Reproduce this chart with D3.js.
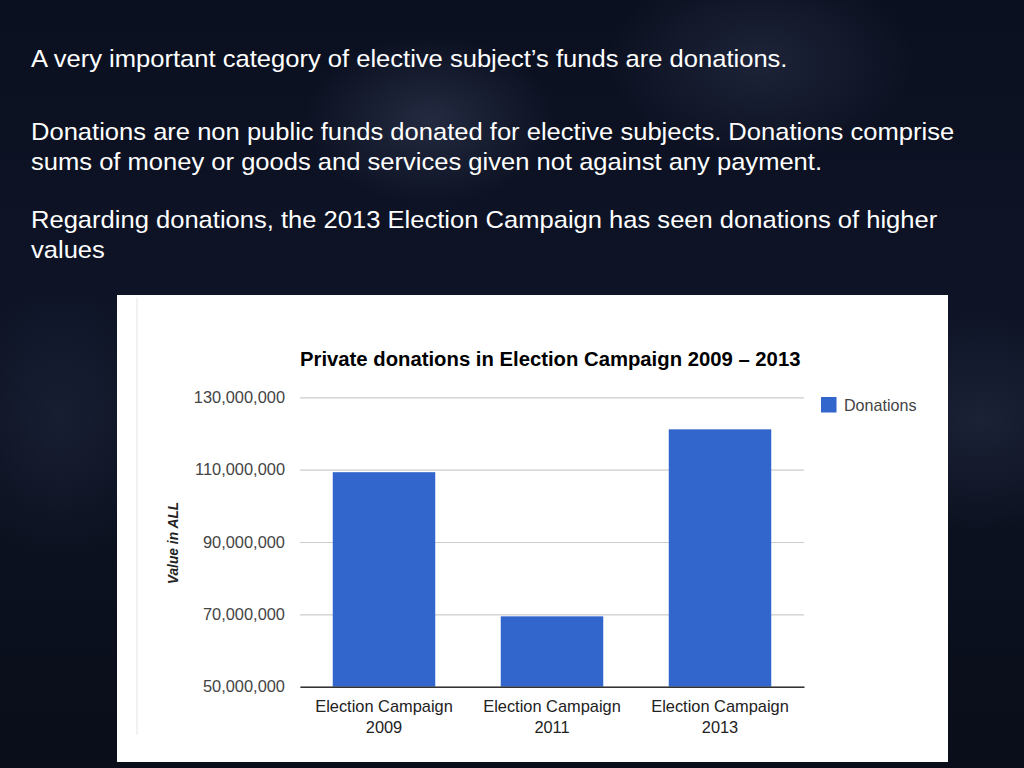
<!DOCTYPE html>
<html>
<head>
<meta charset="utf-8">
<script src="https://cdn.jsdelivr.net/npm/d3@7/dist/d3.min.js"></script>
<style>
  html, body { margin: 0; padding: 0; width: 1024px; height: 768px; overflow: hidden; }
  body {
    background:
      radial-gradient(ellipse 180px 120px at 430px 120px, rgba(120,130,170,0.22), rgba(0,0,0,0) 70%),
      radial-gradient(ellipse 220px 140px at 760px 60px, rgba(110,120,160,0.18), rgba(0,0,0,0) 70%),
      radial-gradient(ellipse 200px 160px at 980px 420px, rgba(100,110,150,0.16), rgba(0,0,0,0) 70%),
      radial-gradient(ellipse 160px 200px at 60px 420px, rgba(90,100,140,0.14), rgba(0,0,0,0) 70%),
      linear-gradient(180deg, #0b1020 0%, #0e1426 40%, #0a0e1a 100%);
  }
</style>
</head>
<body>
<svg id="chart" width="1024" height="768"></svg>
<script>
// ---- data ----
const introLines = [
  "A very important category of elective subject’s funds are donations."
];
const para2Lines = [
  "Donations are non public funds donated for elective subjects. Donations comprise",
  "sums of money or goods and services given not against any payment."
];
const para3Lines = [
  "Regarding donations, the 2013 Election Campaign has seen donations of higher",
  "values"
];
const categories = ["Election Campaign 2009", "Election Campaign 2011", "Election Campaign 2013"];
const categoryLine1 = ["Election Campaign", "Election Campaign", "Election Campaign"];
const categoryLine2 = ["2009", "2011", "2013"];
const donations = [109300000, 69450000, 121150000];
const yTicks = [50000000, 70000000, 90000000, 110000000, 130000000];
const chartTitle = "Private donations in Election Campaign 2009 – 2013";
const yAxisTitle = "Value in ALL";
const seriesName = "Donations";

// ---- drawing ----
const svg = d3.select("#chart");
const font = "Liberation Sans, Arial, Helvetica, sans-serif";

// slide text (slightly widened like the reference)
const textG = svg.append("g").attr("font-family", font).attr("font-size", 24).attr("fill", "#ffffff")
  .attr("transform", "translate(31,0) scale(1.065,1)");
introLines.forEach((t, i) => textG.append("text").attr("x", 0).attr("y", 67 + i * 30).text(t));
para2Lines.forEach((t, i) => textG.append("text").attr("x", 0).attr("y", 140 + i * 30).text(t));
para3Lines.forEach((t, i) => textG.append("text").attr("x", 0).attr("y", 228 + i * 30).text(t));

// chart panel
svg.append("rect").attr("x", 117).attr("y", 295).attr("width", 831).attr("height", 467).attr("fill", "#ffffff");
svg.append("line").attr("x1", 137).attr("x2", 137).attr("y1", 298).attr("y2", 735)
  .attr("stroke", "#eeeeee").attr("stroke-width", 1.5);

const x0 = 300, x1 = 804, yTop = 397.3, yBot = 686.7;
const x = d3.scaleBand().domain(categories).range([x0, x1]).paddingInner(0.39).paddingOuter(0.195);
const y = d3.scaleLinear().domain([50000000, 130000000]).range([yBot, yTop]);

const g = svg.append("g").attr("font-family", font);

// gridlines
g.append("g").attr("class", "grid")
  .attr("transform", `translate(${x0},0)`)
  .call(d3.axisLeft(y).tickValues(yTicks).tickSize(-(x1 - x0)).tickFormat(""))
  .call(s => s.select(".domain").remove())
  .call(s => s.selectAll(".tick line").attr("stroke", "#cccccc").attr("stroke-width", 1.2));

// y-axis labels
g.append("g")
  .attr("transform", `translate(${x0},0)`)
  .call(d3.axisLeft(y).tickValues(yTicks).tickSize(0).tickPadding(15).tickFormat(d3.format(",")))
  .call(s => s.select(".domain").remove())
  .call(s => s.selectAll(".tick text").attr("font-family", font).attr("font-size", 16.4).attr("fill", "#444444"));

// bars
g.selectAll("rect.bar").data(donations).join("rect")
  .attr("class", "bar")
  .attr("x", (d, i) => x(categories[i]))
  .attr("width", x.bandwidth())
  .attr("y", d => y(d))
  .attr("height", d => y(50000000) - y(d))
  .attr("fill", "#3366cc");

// baseline axis
g.append("g")
  .attr("transform", `translate(0,${yBot})`)
  .call(d3.axisBottom(x).tickSize(0).tickFormat(""))
  .call(s => s.select(".domain").attr("stroke", "#333333").attr("stroke-width", 1.5));

// x labels (two lines)
const xl = g.append("g").attr("font-size", 16.4).attr("fill", "#222222").attr("text-anchor", "middle");
categories.forEach((c, i) => {
  const cx = x(c) + x.bandwidth() / 2;
  xl.append("text").attr("x", cx).attr("y", 712).text(categoryLine1[i]);
  xl.append("text").attr("x", cx).attr("y", 733).text(categoryLine2[i]);
});

// title
g.append("text").attr("x", 300).attr("y", 366)
  .attr("font-size", 20.3).attr("font-weight", "bold").attr("fill", "#000000")
  .text(chartTitle);

// y-axis title
g.append("text")
  .attr("transform", `translate(178,543) rotate(-90)`)
  .attr("text-anchor", "middle")
  .attr("font-size", 13.8).attr("font-weight", "bold").attr("font-style", "italic").attr("fill", "#222222")
  .text(yAxisTitle);

// legend
g.append("rect").attr("x", 821).attr("y", 397).attr("width", 15.5).attr("height", 15.5).attr("fill", "#3366cc");
g.append("text").attr("x", 844).attr("y", 411).attr("font-size", 16.1).attr("fill", "#444444").text(seriesName);
</script>
</body>
</html>
